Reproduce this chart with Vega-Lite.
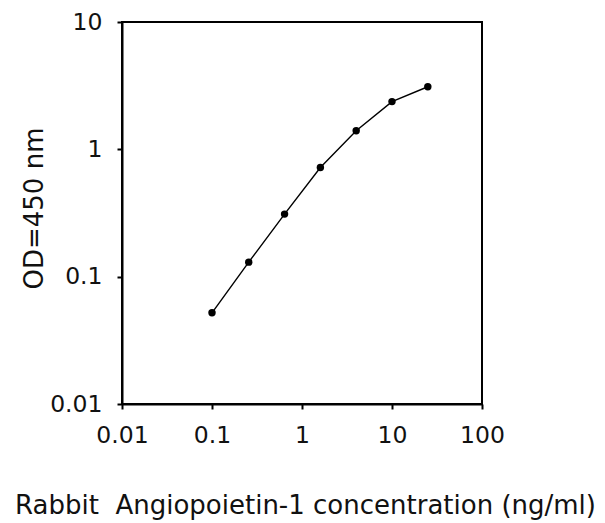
{
  "$schema": "https://vega.github.io/schema/vega-lite/v6.json",
  "width": 360,
  "height": 382,
  "autosize": "none",
  "padding": {"left": 122, "top": 22, "right": 123, "bottom": 119},
  "background": "white",
  "config": {
    "view": {"stroke": "black", "strokeWidth": 2},
    "font": "DejaVu Sans",
    "axis": {
      "grid": false,
      "domainColor": "black",
      "domainWidth": 2,
      "tickColor": "black",
      "tickWidth": 2,
      "tickSize": 5,
      "labelColor": "#111",
      "titleColor": "#111",
      "labelFontSize": 23.5,
      "titleFontSize": 26,
      "titleFontWeight": "normal",
      "labelFont": "DejaVu Sans",
      "titleFont": "DejaVu Sans"
    }
  },
  "data": {
    "values": [
      {"conc": 0.1, "od": 0.052},
      {"conc": 0.256, "od": 0.13},
      {"conc": 0.64, "od": 0.31},
      {"conc": 1.6, "od": 0.72},
      {"conc": 4, "od": 1.4},
      {"conc": 10, "od": 2.37},
      {"conc": 25, "od": 3.1}
    ]
  },
  "encoding": {
    "x": {
      "field": "conc",
      "type": "quantitative",
      "scale": {"type": "log", "domain": [0.01, 100], "nice": false},
      "axis": {
        "values": [0.01, 0.1, 1, 10, 100],
        "format": "~g",
        "labelPadding": 14,
        "labelFlush": false,
        "title": "Rabbit\u00a0 Angiopoietin-1 concentration (ng/ml)",
        "titleX": 183,
        "titleY": 109,
        "titleBaseline": "alphabetic",
        "titleAlign": "center"
      }
    },
    "y": {
      "field": "od",
      "type": "quantitative",
      "scale": {"type": "log", "domain": [0.01, 10], "nice": false},
      "axis": {
        "values": [0.01, 0.1, 1, 10],
        "format": "~g",
        "labelPadding": 15,
        "labelFlush": false,
        "title": "OD=450 nm",
        "titleX": -80,
        "titleY": 186,
        "titleAngle": -90,
        "titleBaseline": "alphabetic",
        "titleAlign": "center"
      }
    }
  },
  "layer": [
    {"mark": {"type": "line", "color": "black", "strokeWidth": 1.4}},
    {"mark": {"type": "point", "filled": true, "color": "black", "size": 55, "opacity": 1}}
  ]
}
